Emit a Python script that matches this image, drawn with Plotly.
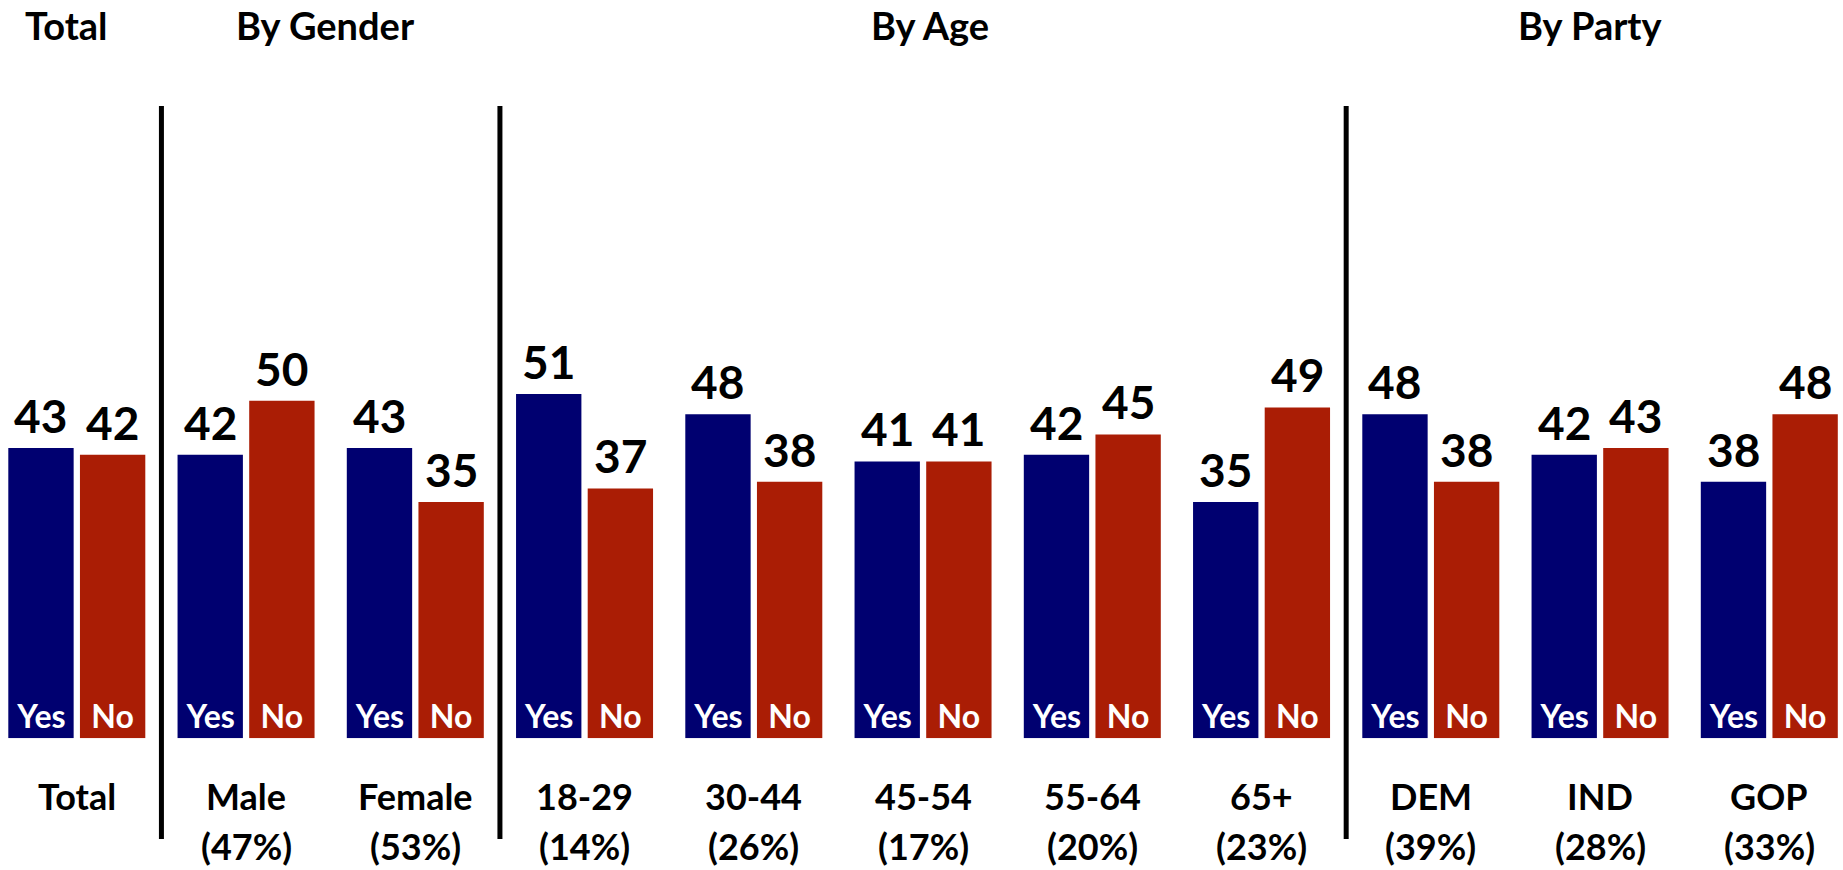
import plotly.graph_objects as go

group_names = ["Total", "Male", "Female", "18-29", "30-44", "45-54", "55-64", "65+", "DEM", "IND", "GOP"]
group_shares = ["", "(47%)", "(53%)", "(14%)", "(26%)", "(17%)", "(20%)", "(23%)", "(39%)", "(28%)", "(33%)"]
yes_vals = [43, 42, 43, 51, 48, 41, 42, 35, 48, 42, 38]
no_vals = [42, 50, 35, 37, 38, 41, 45, 49, 38, 43, 48]
section_names = ["Total", "By Gender", "By Age", "By Party"]
section_first = [0, 1, 3, 8]
section_last = [0, 2, 7, 10]
separators = [0.5, 2.5, 7.5]

NAVY = "#000070"
RED = "#AA1D05"
FONT = "Lato"

W, H = 1843, 870
base_px = 738.3
px_per_unit = 6.753
pitch = 169.25
first_center_px = 76.8
x_lo = -first_center_px / pitch
x_hi = x_lo + W / pitch
header_xshift = [-10, -5, 7, -10]

idx = list(range(len(group_names)))

fig = go.Figure()
for vals, label, color in ((yes_vals, "Yes", NAVY), (no_vals, "No", RED)):
    fig.add_trace(go.Bar(x=idx, y=vals, name=label, marker=dict(color=color, line=dict(width=0)),
                         text=[label] * len(idx), textposition="inside", insidetextanchor="start",
                         textangle=0, constraintext="none", hoverinfo="skip",
                         textfont=dict(color="white", size=32, family=FONT, weight="bold")))

slot = 71.65
annotations = []
for i in idx:
    for v, sh in ((yes_vals[i], -slot / 2), (no_vals[i], slot / 2)):
        annotations.append(dict(x=i, y=v, xref="x", yref="y", text=str(v), showarrow=False,
                                xshift=sh, yanchor="bottom", yshift=3,
                                font=dict(size=46, family=FONT, color="black", weight="bold")))
    annotations.append(dict(x=i, y=(H - 796) / H, xref="x", yref="paper", text=group_names[i],
                            showarrow=False, yanchor="middle",
                            font=dict(size=36, family=FONT, color="black", weight="bold")))
    if group_shares[i]:
        annotations.append(dict(x=i, y=(H - 846) / H, xref="x", yref="paper", text=group_shares[i],
                                showarrow=False, yanchor="middle",
                                font=dict(size=36, family=FONT, color="black", weight="bold")))
for name, a, b, sh in zip(section_names, section_first, section_last, header_xshift):
    annotations.append(dict(x=(a + b) / 2, y=(H - 25) / H, xref="x", yref="paper", text=name,
                            showarrow=False, yanchor="middle", xshift=sh,
                            font=dict(size=38, family=FONT, color="black", weight="bold")))

shapes = [dict(type="line", xref="x", yref="paper", x0=s, x1=s, y0=(H - 839) / H, y1=(H - 106) / H,
               line=dict(color="black", width=5)) for s in separators]

fig.update_layout(
    width=W, height=H, margin=dict(l=0, r=0, t=0, b=0),
    paper_bgcolor="white", plot_bgcolor="white",
    barmode="group", bargap=1 - 2 * slot / pitch, bargroupgap=0.088,
    showlegend=False,
    xaxis=dict(range=[x_lo, x_hi], showticklabels=False, showgrid=False, zeroline=False,
               showline=False, ticks=""),
    yaxis=dict(range=[0, base_px / px_per_unit], domain=[(H - base_px) / H, 1], showticklabels=False,
               showgrid=False, zeroline=False, showline=False),
    annotations=annotations, shapes=shapes,
)

fig.write_html("out.html", config={"displayModeBar": False},
               post_script="document.body.style.margin='0px';document.body.style.overflow='hidden';")
